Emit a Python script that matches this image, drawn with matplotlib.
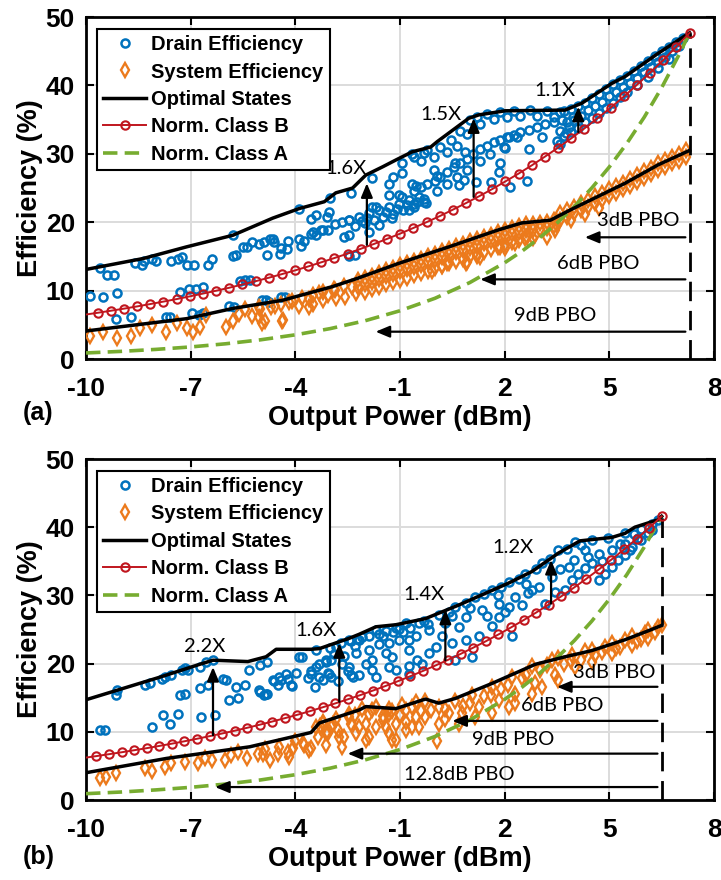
import numpy as np
import matplotlib
matplotlib.use('Agg')
import matplotlib.pyplot as plt

plt.rcParams['font.family'] = ['Liberation Sans', 'DejaVu Sans']
plt.rcParams['font.weight'] = 'bold'
plt.rcParams['axes.unicode_minus'] = False

BLUE = '#0072BD'
ORANGE = '#EC7A1C'
RED = '#C0161E'
GREEN = '#77AC30'
NOTE_FONT = 'Lato'

# ---------------- panel (a) ----------------
opt_de_a_p = [-10, -8.36, -7.12, -5.79, -4.65, -3.89, -3.17, -2.84, -2.36, -1.98, -1.50, -1.12,
              -0.65, -0.12, 0.07, 0.97, 1.26, 2.02, 3.73, 4.21, 5.07, 5.45, 6.40, 6.97, 7.3]
opt_de_a_e = [13.1, 14.7, 16.4, 18.1, 20.6, 22.0, 23.0, 24.3, 25.0, 26.9, 28.1, 29.1,
              30.3, 31.0, 31.8, 35.2, 35.7, 36.3, 36.4, 37.4, 40.3, 41.3, 44.7, 46.6, 47.7]
opt_se_a_p = [-10, -7.12, -5.79, -4.36, -2.93, -2.22, -1.03, 0.40, 1.83, 2.49, 3.31, 3.92, 5.45, 6.40, 7.3]
opt_se_a_e = [4.1, 5.9, 7.4, 8.6, 10.6, 11.8, 14.0, 16.4, 18.9, 19.9, 20.3, 21.9, 25.7, 28.4, 30.5]

classb_a_p = [-10, -9.67, -9.29, -8.91, -8.53, -8.16, -7.78, -7.40, -7.03, -6.65, -6.27, -5.89, -5.52,
              -5.14, -4.76, -4.39, -4.01, -3.63, -3.26, -2.88, -2.50, -2.13, -1.75, -1.37, -0.99,
              -0.62, -0.24, 0.14, 0.51, 0.89, 1.27, 1.65, 2.02, 2.40, 2.78, 3.15, 3.53, 3.91,
              4.28, 4.66, 5.04, 5.42, 5.79, 6.17, 6.55, 6.92, 7.3]
classb_a_e = [6.51, 6.76, 7.06, 7.37, 7.70, 8.04, 8.40, 8.77, 9.16, 9.57, 9.99, 10.43, 10.90,
              11.38, 11.89, 12.41, 12.96, 13.54, 14.14, 14.77, 15.42, 16.11, 16.82, 17.57, 18.35,
              19.16, 20.01, 20.90, 21.83, 22.80, 23.81, 24.87, 25.97, 27.12, 28.33, 29.58, 30.90,
              32.27, 33.70, 35.20, 36.76, 38.39, 40.09, 41.87, 43.73, 45.67, 47.70]
classa_a_p = [-10, -9, -8, -7, -6, -5, -4, -3, -2, -1, 0, 1, 2, 2.5, 3, 3.5, 4, 4.5, 5, 5.5, 6, 6.5, 7, 7.3]
classa_a_e = [0.89, 1.12, 1.41, 1.77, 2.23, 2.81, 3.54, 4.45, 5.60, 7.06, 8.88, 11.18, 14.08, 15.79,
              17.72, 19.88, 22.31, 25.03, 28.09, 31.52, 35.36, 39.68, 44.52, 47.70]

de_a = [
    (-9.9, 9.2), (-9.5, 9.0), (-9.6, 13.3), (-9.4, 12.3), (-9.2, 12.3), (-9.1, 9.6), (-9.15, 5.9),
    (-8.7, 6.1), (-8.6, 14.1), (-8.4, 13.7), (-8.35, 14.4), (-8.1, 14.7), (-8.0, 14.4), (-7.7, 6.1),
    (-7.6, 6.1), (-7.55, 14.4), (-7.35, 14.6), (-7.25, 14.9), (-7.3, 9.8), (-7.05, 10.3), (-7.1, 13.7),
    (-6.9, 13.7), (-6.95, 6.8), (-6.75, 6.5), (-6.65, 6.8), (-6.85, 10.3), (-6.65, 10.5), (-6.5, 13.7),
    (-6.4, 14.6), (-5.8, 15.0), (-5.7, 15.2), (-5.8, 18.2), (-5.9, 7.8), (-5.75, 7.6), (-5.6, 11.4),
    (-5.45, 11.6), (-5.5, 16.4), (-5.4, 16.4), (-5.25, 17.1), (-5.05, 16.8), (-4.9, 17.1), (-5.3, 11.6),
    (-4.95, 8.6), (-4.85, 8.6), (-4.75, 8.3), (-4.8, 15.2), (-4.65, 17.6), (-4.6, 17.1), (-4.45, 15.4),
    (-4.25, 16.1), (-4.4, 9.1), (-4.3, 9.1), (-3.9, 21.9), (-3.85, 16.6), (-3.55, 20.5), (-3.5, 18.6),
    (-3.4, 18.1), (-3.2, 18.8), (-3.05, 18.8), (-3.1, 20.7), (-3.0, 23.6), (-2.85, 19.8), (-2.65, 20.0),
    (-2.45, 20.3), (-2.6, 17.9), (-2.45, 18.2), (-2.4, 24.3), (-2.45, 15.0), (-2.3, 15.2),
    (-3.41, 21.0), (-3.03, 21.5), (-3.55, 18.3), (-3.26, 18.8), (-3.89, 17.5), (-3.75, 17.3),
    (-4.22, 17.3), (-4.41, 16.3), (-4.74, 17.5),
    (-2.46, 20.3), (-2.17, 20.8), (-1.88, 21.3), (-1.6, 21.8), (-1.31, 22.3), (-1.03, 22.7),
    (-0.74, 23.2), (-0.46, 23.7), (-2.3, 19.5), (-2.0, 19.9), (-1.75, 20.3), (-1.5, 20.8),
    (-1.2, 21.2), (-0.9, 21.8), (-0.6, 22.3), (-0.3, 22.9), (-1.88, 18.6), (-1.6, 19.6),
    (-1.22, 20.6), (-0.74, 21.8), (-0.26, 22.8), (-1.79, 22.3), (-1.69, 22.3), (-1.31, 24.0),
    (-1.03, 24.0), (-1.2, 26.6), (-0.95, 27.2), (-0.93, 23.7), (-0.65, 25.6), (-0.55, 25.3),
    (-0.65, 30.0), (-0.93, 28.6), (-1.31, 25.6), (-1.79, 26.4),
    (-2.1, 20.2), (-1.95, 20.6), (-1.4, 21.5), (-1.1, 22.0), (-0.8, 22.5), (-0.5, 23.0),
    (-0.6, 29.5), (-0.22, 30.5), (0.16, 31.0), (0.45, 32.0), (0.73, 33.4), (1.02, 34.9), (1.21, 35.4),
    (1.5, 35.9), (1.88, 36.1), (2.26, 36.3), (2.73, 36.4), (3.21, 36.3), (3.59, 36.1),
    (-0.41, 29.0), (-0.03, 29.5), (0.35, 30.3), (0.64, 31.2), (0.92, 32.9), (1.3, 34.4), (1.69, 35.1),
    (2.07, 35.4), (2.45, 35.6), (2.92, 35.6), (3.4, 35.4),
    (-0.6, 24.6), (-0.22, 25.6), (0.16, 26.6), (0.54, 28.1), (0.92, 29.3), (1.3, 30.7), (1.69, 31.7),
    (2.07, 32.4), (2.45, 33.2), (2.92, 33.9), (3.4, 34.6),
    (-0.4, 25.1), (0.0, 26.1), (0.35, 27.3), (0.73, 28.7), (1.1, 30.0), (1.5, 31.2), (1.88, 32.0),
    (2.26, 32.8), (2.7, 33.5), (3.15, 34.3),
    (-0.6, 22.7), (-0.31, 23.4), (0.07, 24.6), (0.35, 25.6), (0.64, 26.6), (0.92, 27.6), (1.3, 29.0),
    (1.59, 30.0), (1.97, 31.0), (2.35, 32.4),
    (-0.03, 27.6), (0.07, 26.8), (0.87, 30.3), (0.59, 28.6), (1.83, 27.3), (2.16, 25.1), (2.64, 26.1),
    (2.69, 30.7), (3.07, 32.4), (3.5, 31.9), (3.59, 33.4), (1.88, 28.6), (-0.31, 30.1), (0.83, 26.2),
    (1.17, 25.9), (1.6, 25.9), (2.12, 32.5), (2.02, 30.8), (0.69, 25.4),
    (3.7, 36.2), (3.9, 36.6), (4.1, 37.0), (4.3, 37.5), (4.5, 38.1), (4.7, 38.8), (4.9, 39.5),
    (5.1, 40.2), (5.3, 40.8), (5.5, 41.4), (5.7, 42.1), (5.9, 42.8), (6.1, 43.6), (6.3, 44.3),
    (6.5, 45.0), (6.7, 45.6), (6.9, 46.3), (7.1, 47.0),
    (3.8, 34.6), (4.0, 35.0), (4.2, 35.6), (4.4, 36.4), (4.6, 37.0), (4.8, 37.6), (5.0, 38.4),
    (5.2, 39.1), (5.4, 39.8), (5.6, 40.4), (5.8, 41.1), (6.0, 41.9), (6.2, 42.7), (6.4, 43.4),
    (6.6, 44.2), (6.8, 45.0), (7.0, 45.8),
    (3.7, 32.6), (3.9, 33.2), (4.1, 33.8), (4.3, 34.6), (4.5, 35.3), (4.7, 36.0), (4.9, 36.7),
    (5.1, 37.5), (5.3, 38.3), (5.5, 39.0), (5.8, 40.0), (6.1, 41.2), (6.4, 42.5), (6.7, 43.8),
    (3.6, 31.5), (3.75, 33.0), (3.65, 34.9), (3.85, 33.9), (3.95, 35.4),
]

se_a = [
    (-9.9, 3.4), (-9.5, 3.9), (-9.1, 3.1), (-8.7, 3.3), (-8.45, 4.6), (-8.1, 5.0), (-7.7, 3.9),
    (-7.4, 5.2), (-7.1, 4.5), (-6.93, 4.0), (-6.74, 4.7), (-6.55, 6.4), (-5.98, 4.7), (-5.79, 5.6),
    (-5.62, 6.6), (-5.43, 7.3), (-5.24, 6.3), (-4.95, 5.3), (-4.86, 5.6), (-5.05, 7.6), (-4.57, 7.8),
    (-4.38, 5.6), (-4.19, 8.3), (-3.9, 7.8), (-3.62, 8.8), (-3.5, 8.0), (-3.33, 9.6), (-3.05, 9.4),
    (-2.86, 10.1), (-2.58, 9.1), (-2.39, 10.5), (-2.26, 9.6),
    (-5.0, 7.3), (-4.7, 7.6), (-4.4, 8.0), (-4.1, 8.5), (-3.8, 8.9), (-3.5, 9.4), (-3.2, 9.8),
    (-2.9, 10.2), (-2.6, 10.7), (-5.03, 6.2), (-4.36, 5.7), (-3.6, 7.6), (-3.21, 8.6), (-2.84, 8.9),
    (-2.2, 11.5), (-2.0, 11.9), (-1.8, 12.2), (-1.6, 12.6), (-1.4, 13.0), (-1.2, 13.3), (-1.0, 13.7),
    (-0.8, 14.0), (-0.6, 14.4), (-0.4, 14.7), (-0.2, 15.1), (0.0, 15.4), (0.2, 15.8), (0.4, 16.1),
    (0.6, 16.5), (0.8, 16.8), (1.0, 17.2), (1.2, 17.5), (1.4, 17.9), (1.6, 18.2), (1.8, 18.6),
    (2.0, 18.9), (2.2, 19.2), (2.4, 19.5), (2.6, 19.7), (2.8, 19.8), (3.0, 19.9), (3.2, 20.0),
    (3.4, 20.3),
    (-2.2, 10.6), (-2.0, 11.0), (-1.8, 11.3), (-1.6, 11.7), (-1.4, 12.1), (-1.2, 12.4), (-1.0, 12.8),
    (-0.8, 13.1), (-0.6, 13.5), (-0.4, 13.8), (-0.2, 14.2), (0.0, 14.5), (0.2, 14.9), (0.4, 15.2),
    (0.6, 15.6), (0.8, 15.9), (1.0, 16.3), (1.2, 16.6), (1.4, 17.0), (1.6, 17.3), (1.8, 17.7),
    (2.0, 18.0), (2.2, 18.3), (2.4, 18.6), (2.6, 18.8), (2.8, 18.9), (3.0, 19.0), (3.2, 19.1),
    (3.4, 19.4),
    (-2.0, 9.8), (-1.6, 10.5), (-1.2, 11.2), (-0.8, 11.9), (-0.4, 12.6), (0.0, 13.3), (0.4, 14.0),
    (0.8, 14.7), (1.2, 15.4), (1.6, 16.1), (2.0, 16.8), (2.4, 17.4), (2.8, 17.7), (3.2, 17.9),
    (-1.8, 10.2), (-1.4, 10.9), (-1.0, 11.6), (-0.6, 12.3), (-0.2, 12.9), (0.2, 13.6), (0.6, 14.3),
    (1.0, 15.0), (1.4, 15.7), (1.8, 16.4), (2.2, 17.1),
    (0.35, 14.0), (0.88, 14.0), (1.21, 15.0), (2.02, 16.2), (2.3, 16.9), (2.59, 17.7), (2.88, 18.2),
    (3.45, 18.8), (0.21, 13.6), (-0.07, 12.9), (0.92, 14.2), (1.3, 14.9), (1.87, 16.4), (2.64, 17.8),
    (3.6, 21.3), (3.8, 21.8), (4.0, 22.3), (4.2, 22.8), (4.4, 23.3), (4.6, 23.8), (4.8, 24.3),
    (5.0, 24.8), (5.2, 25.3), (5.4, 25.8), (5.6, 26.3), (5.8, 26.9), (6.0, 27.5), (6.2, 28.0),
    (6.4, 28.6), (6.6, 29.1), (6.8, 29.6), (7.0, 30.0), (7.2, 30.5),
    (3.6, 20.3), (3.8, 20.8), (4.0, 21.3), (4.2, 21.8), (4.4, 22.3), (4.6, 22.8), (4.8, 23.3),
    (5.0, 23.8), (5.2, 24.3), (5.4, 24.8), (5.6, 25.3), (5.8, 25.9), (6.0, 26.5), (6.2, 27.0),
    (6.4, 27.6), (6.6, 28.1), (6.8, 28.6), (7.0, 29.0), (7.2, 29.5),
    (3.5, 19.6), (3.9, 20.3), (4.3, 21.2), (4.7, 22.1),
]

# ---------------- panel (b) ----------------
opt_de_b_p = [-10, -7.89, -6.74, -6.36, -5.36, -4.84, -4.55, -3.55, -3.31, -2.46, -2.17, -1.69,
              -1.12, -0.27, 0.69, 2.11, 2.78, 3.54, 4.16, 5.07, 5.45, 5.73, 6.4, 6.5]
opt_de_b_e = [14.7, 18.0, 19.9, 20.5, 20.3, 21.0, 22.1, 22.1, 22.2, 23.7, 24.3, 25.4,
              25.7, 26.6, 28.6, 31.8, 33.5, 36.2, 38.0, 38.5, 39.1, 40.0, 41.1, 41.6]
opt_se_b_p = [-10, -7.69, -5.31, -3.55, -3.31, -2.17, -1.98, -1.12, -0.27, 0.11, 0.59, 1.64,
              2.88, 3.73, 4.49, 5.45, 6.11, 6.5]
opt_se_b_e = [4.0, 6.1, 7.8, 9.9, 11.3, 13.2, 13.7, 13.4, 14.8, 14.2, 14.9, 17.1,
              19.9, 21.0, 21.9, 23.5, 24.8, 25.6]

classb_b_p = [-10, -9.7, -9.34, -8.98, -8.62, -8.26, -7.9, -7.54, -7.18, -6.82, -6.46, -6.1, -5.74,
              -5.38, -5.02, -4.66, -4.3, -3.94, -3.58, -3.22, -2.86, -2.5, -2.14, -1.78, -1.42,
              -1.06, -0.7, -0.34, 0.02, 0.38, 0.74, 1.1, 1.46, 1.82, 2.18, 2.54, 2.9, 3.26, 3.62,
              3.98, 4.34, 4.7, 5.06, 5.42, 5.78, 6.14, 6.5]
classb_b_e = [6.22, 6.44, 6.72, 7.00, 7.30, 7.60, 7.93, 8.26, 8.61, 8.98, 9.36, 9.75, 10.16,
              10.59, 11.04, 11.51, 12.00, 12.50, 13.03, 13.59, 14.16, 14.76, 15.38, 16.04, 16.71,
              17.42, 18.16, 18.93, 19.73, 20.56, 21.43, 22.34, 23.28, 24.27, 25.30, 26.37, 27.48,
              28.65, 29.86, 31.12, 32.44, 33.81, 35.25, 36.74, 38.29, 39.91, 41.60]
classa_b_p = [-10, -9, -8, -7, -6, -5, -4, -3, -2, -1, 0, 1, 2, 2.5, 3, 3.5, 4, 4.5, 5, 5.5, 6, 6.5]
classa_b_e = [0.93, 1.17, 1.48, 1.86, 2.34, 2.94, 3.71, 4.67, 5.88, 7.40, 9.31, 11.72, 14.76, 16.56,
              18.58, 20.85, 23.39, 26.25, 29.45, 33.04, 37.08, 41.60]

de_b = [
    (-9.6, 10.3), (-9.46, 10.3), (-9.14, 15.4), (-9.1, 16.1), (-8.12, 10.7), (-7.79, 12.4), (-7.6, 11.2),
    (-7.36, 12.6), (-8.31, 16.9), (-8.17, 17.1), (-7.83, 17.8), (-7.74, 18.1), (-7.55, 18.3),
    (-7.26, 19.0), (-7.17, 19.3), (-7.07, 19.0), (-7.31, 15.4), (-7.17, 15.5), (-6.74, 16.4),
    (-6.74, 19.5), (-6.69, 12.1), (-6.5, 16.9), (-6.31, 12.4), (-6.55, 20.3), (-6.36, 20.5),
    (-6.07, 17.8), (-5.98, 17.6), (-5.9, 14.7), (-5.7, 16.6), (-5.64, 14.9), (-5.43, 16.9),
    (-5.33, 19.0), (-5.0, 19.8), (-4.8, 20.3), (-5.0, 15.8), (-4.9, 15.4), (-4.8, 15.6), (-4.6, 17.4),
    (-4.4, 17.6), (-4.2, 17.8), (-4.5, 16.9), (-4.1, 16.7), (-3.98, 18.6), (-3.8, 21.0), (-3.65, 17.9),
    (-3.55, 18.9), (-3.41, 19.5), (-3.31, 20.0), (-3.45, 16.5), (-3.21, 17.6), (-3.07, 18.6),
    (-2.98, 18.1), (-3.12, 20.2), (-2.98, 20.5), (-2.88, 21.4), (-2.6, 21.1), (-2.5, 18.9),
    (-2.41, 18.4), (-2.79, 17.4), (-2.41, 23.3), (-2.22, 23.6),
    (-3.41, 22.0), (-3.12, 20.5), (-2.84, 22.5), (-2.65, 20.0), (-2.46, 23.5), (-2.27, 21.5),
    (-2.08, 23.9), (-1.98, 20.0), (-1.69, 24.9), (-1.6, 22.9), (-1.41, 21.5), (-1.12, 25.2),
    (-1.03, 23.5), (-0.84, 25.9), (-0.74, 22.0), (-0.55, 24.0), (-0.5, 20.5),
    (-5.03, 16.1), (-4.84, 15.6), (-4.65, 17.6), (-4.46, 18.1), (-4.27, 18.5), (-4.13, 16.8),
    (-3.89, 21.0), (-3.55, 18.5), (-3.31, 18.1), (-3.03, 18.5), (-2.46, 19.5), (-2.36, 18.1),
    (-2.17, 18.3), (-1.79, 19.0), (-1.69, 18.1), (-1.31, 19.5), (-1.12, 19.0), (-0.74, 18.5),
    (-2.17, 23.5), (-1.6, 24.4), (-1.03, 25.1), (-0.46, 25.9), (0.11, 27.1), (0.59, 28.3),
    (1.16, 29.8), (1.64, 30.8), (2.11, 32.0), (2.59, 33.2), (3.07, 34.7), (3.54, 36.6), (4.02, 37.9),
    (-1.88, 22.0), (-1.31, 23.0), (-0.74, 23.5), (-0.17, 24.9), (0.3, 25.9), (0.88, 26.9),
    (1.35, 27.9), (1.83, 28.8), (2.3, 29.8), (2.78, 30.8), (3.35, 32.7), (3.83, 34.2),
    (-1.79, 20.5), (-1.22, 21.0), (-0.74, 19.6), (-0.36, 20.0), (-0.17, 21.5), (0.02, 22.5),
    (0.49, 23.0), (0.88, 23.5), (0.59, 20.5), (1.06, 21.0), (1.25, 24.0), (1.64, 25.5), (1.83, 26.9),
    (2.21, 24.0), (2.11, 28.3), (2.5, 28.6), (2.68, 30.3), (2.97, 31.3), (3.16, 28.8), (3.45, 30.5),
    (3.73, 30.8), (3.92, 32.3), (4.11, 33.2), (4.3, 34.0), (4.5, 34.7), (4.69, 32.3), (4.88, 33.2),
    (5.07, 34.2), (5.26, 35.2), (5.45, 35.9), (5.64, 37.1), (5.92, 38.1), (6.21, 39.6),
    (4.5, 38.1), (4.97, 38.4), (5.45, 39.1), (5.92, 39.8), (6.21, 40.5), (6.4, 41.1),
    (4.3, 36.6), (4.69, 36.1), (5.07, 36.6), (5.45, 37.6), (5.83, 38.4), (6.11, 39.1),
    (-1.4, 24.8), (-0.9, 24.6), (-0.3, 26.2), (0.4, 27.6), (0.9, 28.9), (1.4, 30.2), (1.9, 31.3),
    (2.4, 32.4), (2.9, 33.8), (3.3, 35.3), (3.8, 36.8), (4.2, 37.4), (0.2, 24.0), (0.7, 25.3),
    (1.5, 27.0), (2.0, 27.5), (3.6, 33.8), (4.0, 35.2), (4.8, 35.1), (5.3, 37.6), (5.7, 39.0),
    (-3.0, 22.3), (-2.7, 23.0), (-2.3, 22.6), (-1.9, 24.1), (-1.5, 24.0), (-1.2, 24.6), (-0.7, 25.2),
    (-0.2, 25.8), (0.5, 27.0), (1.0, 28.2), (1.8, 30.0), (2.6, 31.7), (4.4, 35.6), (5.6, 36.6),
]

se_b = [
    (-9.6, 3.3), (-9.43, 3.4), (-9.14, 4.0), (-8.31, 4.7), (-8.12, 4.2), (-7.74, 4.9), (-7.55, 5.4),
    (-7.17, 5.6), (-6.79, 5.4), (-6.6, 6.1), (-6.4, 5.9), (-6.03, 5.9), (-5.83, 6.6), (-5.64, 7.1),
    (-5.4, 6.1), (-5.07, 6.8), (-4.88, 7.5), (-4.5, 6.8), (-4.2, 7.1), (-4.0, 8.6), (-3.74, 8.1),
    (-3.55, 7.6), (-3.36, 9.3), (-3.12, 8.1), (-2.98, 10.7), (-2.79, 10.3), (-2.6, 9.3),
    (-2.41, 11.2), (-2.27, 9.8), (-3.07, 9.8), (-3.3, 10.9), (-3.2, 11.3),
    (-4.93, 6.8), (-4.46, 7.8), (-4.08, 7.6), (-3.79, 8.3), (-3.41, 10.7), (-3.12, 9.8), (-2.93, 11.2),
    (-2.74, 9.3), (-2.46, 12.2), (-2.17, 10.7), (-1.88, 12.6), (-1.69, 10.7), (-1.5, 11.7),
    (-1.31, 12.6), (-1.12, 11.2), (-0.84, 13.2), (-0.65, 10.7), (-0.55, 12.2), (-3.6, 7.3),
    (-4.17, 6.3), (-4.74, 5.9), (-2.65, 7.8), (-1.98, 8.8), (-1.12, 8.8),
    (-3.22, 11.4), (-2.84, 11.9), (-2.46, 12.6), (-2.08, 13.4), (-1.69, 13.6), (-1.31, 13.4),
    (-0.93, 13.9), (-0.55, 14.4),
    (-1.79, 13.2), (-1.22, 13.0), (-0.65, 13.7), (-0.27, 14.5), (0.11, 13.7), (0.59, 14.5),
    (1.06, 15.4), (1.64, 16.6), (2.21, 18.1), (2.78, 19.6), (3.35, 20.5), (3.92, 21.3), (4.5, 22.0),
    (5.07, 23.0), (5.64, 24.0), (6.11, 25.0), (6.5, 25.7),
    (-1.98, 11.2), (-1.41, 10.7), (-0.84, 11.4), (-0.27, 12.2), (0.3, 11.9), (0.78, 12.7),
    (1.25, 13.7), (1.83, 14.7), (2.3, 15.6), (2.88, 17.1), (3.45, 18.3), (4.02, 19.5), (4.5, 20.3),
    (5.07, 21.5), (5.64, 22.7), (6.11, 23.7),
    (-1.88, 9.3), (-1.31, 9.8), (-0.84, 10.3), (-0.46, 10.7), (0.11, 11.2), (0.69, 11.2), (1.16, 12.2),
    (1.64, 12.7), (2.11, 13.7), (2.3, 14.2), (2.78, 15.6), (3.07, 16.6), (3.54, 17.6), (0.06, 8.6),
    (-1.22, 8.8),
    (3.54, 20.8), (4.3, 21.8), (4.88, 22.5), (5.45, 23.5), (6.02, 24.5), (6.4, 25.3),
    (-0.1, 13.2), (0.3, 13.4), (0.8, 13.8), (1.4, 15.2), (1.9, 16.3), (2.5, 17.9), (3.0, 19.0),
    (3.7, 19.9), (4.2, 20.6), (4.8, 21.7), (5.3, 22.4), (5.9, 23.6), (6.3, 24.6),
    (-2.3, 12.5), (-1.5, 12.3), (-1.0, 12.4), (-0.4, 13.0), (0.4, 12.8), (1.0, 14.2), (1.6, 15.4),
    (2.1, 16.8), (2.6, 18.4), (3.2, 19.8), (3.9, 20.4), (4.6, 21.2), (5.2, 22.3), (5.8, 23.3),
]

panels = [
    dict(tag='(a)', de=de_a, se=se_a,
         opt_de=(opt_de_a_p, opt_de_a_e), opt_se=(opt_se_a_p, opt_se_a_e),
         cb=(classb_a_p, classb_a_e), ca=(classa_a_p, classa_a_e),
         peak=(7.3, 47.7),
         gains=[(-1.95, 16.7, 25.7, '1.6X', -2.55, 27.9),
                (1.11, 23.7, 35.2, '1.5X', 0.16, 35.7),
                (4.11, 33.2, 36.9, '1.1X', 3.43, 39.3)],
         pbo=[(4.3, 17.8, '3dB PBO', 5.83, 20.3),
              (1.3, 11.65, '6dB PBO', 4.69, 13.9),
              (-1.7, 4.0, '9dB PBO', 3.45, 6.4)]),
    dict(tag='(b)', de=de_b, se=se_b,
         opt_de=(opt_de_b_p, opt_de_b_e), opt_se=(opt_se_b_p, opt_se_b_e),
         cb=(classb_b_p, classb_b_e), ca=(classa_b_p, classa_b_e),
         peak=(6.5, 41.6),
         gains=[(-6.36, 9.5, 19.5, '2.2X', -6.6, 22.5),
                (-2.74, 14.4, 23.0, '1.6X', -3.41, 24.9),
                (0.30, 20.5, 27.9, '1.4X', -0.31, 30.1),
                (3.33, 28.8, 35.2, '1.2X', 2.23, 37.0)],
         pbo=[(3.5, 16.6, '3dB PBO', 5.14, 18.7),
              (0.5, 11.6, '6dB PBO', 3.64, 13.8),
              (-2.5, 6.8, '9dB PBO', 2.23, 8.8),
              (-6.3, 1.9, '12.8dB PBO', 0.69, 3.8)]),
]

fig = plt.figure(figsize=(7.21, 8.8), dpi=100)
ax_rects = [[0.1193, 0.592, 0.871, 0.3886], [0.1193, 0.0909, 0.871, 0.3875]]
tag_y = [0.5307, 0.0265]

for pn, rect, ty in zip(panels, ax_rects, tag_y):
    ax = fig.add_axes(rect)
    de = np.array(pn['de'])
    se = np.array(pn['se'])

    ax.plot(de[:, 0], de[:, 1], 'o', ls='none', mfc='none', mec=BLUE, ms=5.8, mew=1.8,
            label='Drain Efficiency', zorder=3)
    ax.plot(se[:, 0], se[:, 1], 'd', ls='none', mfc='none', mec=ORANGE, ms=6.8, mew=1.7,
            label='System Efficiency', zorder=3)
    ax.plot(*pn['opt_de'], color='k', lw=2.5, label='Optimal States', zorder=5)
    ax.plot(*pn['opt_se'], color='k', lw=2.5, zorder=5)
    ax.plot(*pn['cb'], color=RED, lw=1.4, marker='o', ms=6, mfc='none', mew=1.5,
            markevery=list(range(1, len(pn['cb'][0]))), label='Norm. Class B', zorder=6)
    ax.plot(*pn['ca'], color=GREEN, lw=2.6, dashes=(4, 2), label='Norm. Class A', zorder=4)

    # back-off reference at peak output power
    px, pe = pn['peak']
    ax.plot([px, px], [0, pe], color='k', lw=2, dashes=(7, 3.5), zorder=4)

    for x, e0, e1, txt, tx, tey in pn['gains']:
        ax.annotate('', xy=(x, e1), xytext=(x, e0),
                    arrowprops=dict(arrowstyle='-|>,head_length=0.6,head_width=0.25',
                                    color='k', lw=1.6, shrinkA=0, shrinkB=0,
                                    mutation_scale=14), zorder=7)
        ax.text(tx, tey, txt, ha='center', va='center', fontsize=14.5, fontweight='normal',
                family=NOTE_FONT, zorder=8)

    for tip, e, txt, tx, tey in pn['pbo']:
        ax.annotate('', xy=(tip, e), xytext=(px - 0.12, e),
                    arrowprops=dict(arrowstyle='-|>,head_length=0.6,head_width=0.25',
                                    color='k', lw=1.6, shrinkA=0, shrinkB=0,
                                    mutation_scale=14), zorder=7)
        ax.text(tx, tey, txt, ha='center', va='center', fontsize=14.5, fontweight='normal',
                family=NOTE_FONT, zorder=8)

    ax.set_xlim(-10, 8)
    ax.set_ylim(0, 50)
    ax.set_xticks([-10, -7, -4, -1, 2, 5, 8])
    ax.set_yticks([0, 10, 20, 30, 40, 50])
    ax.grid(True, color='#dcdcdc', lw=1.4)
    ax.set_axisbelow(True)
    ax.tick_params(direction='in', top=True, right=True, length=6, width=1.5,
                   labelsize=19, pad=8)
    ax.tick_params(axis='x', pad=13)
    for sp in ax.spines.values():
        sp.set_linewidth(2)
    ax.set_xlabel('Output Power (dBm)', fontsize=19.5, fontweight='bold', labelpad=3)
    ax.set_ylabel('Efficiency (%)', fontsize=19.5, fontweight='bold', labelpad=2)

    leg = ax.legend(loc='upper left', bbox_to_anchor=(0.0175, 0.965), borderaxespad=0,
                    fontsize=14.5, frameon=True, fancybox=False, framealpha=1,
                    edgecolor='k', handlelength=2.15, handletextpad=0.25,
                    labelspacing=0.42, borderpad=0.3)
    leg.get_frame().set_linewidth(1.5)
    leg.set_zorder(20)

    fig.text(0.032, ty, pn['tag'], fontsize=18, fontweight='bold', va='center', ha='left')

fig.savefig('out.png', dpi=100)
